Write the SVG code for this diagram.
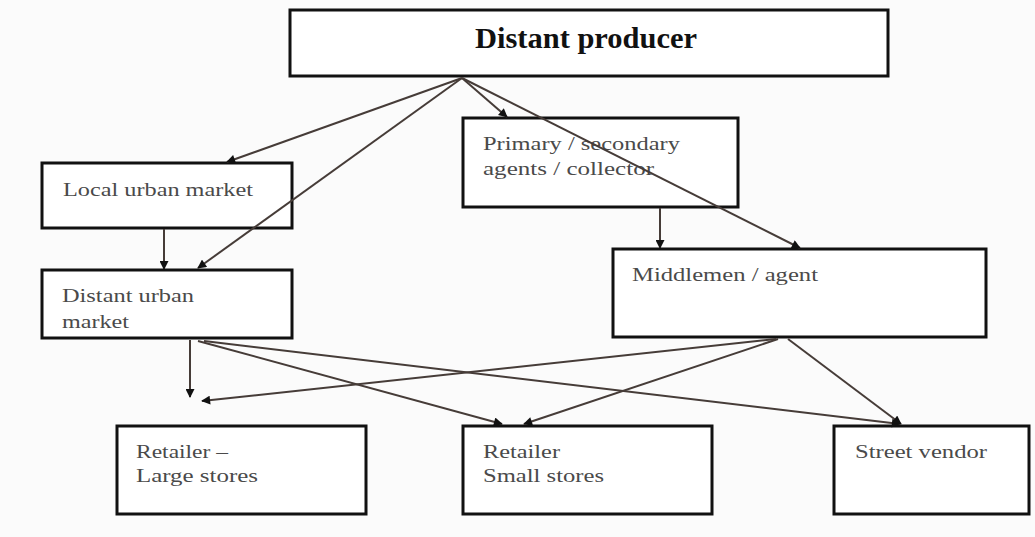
<svg xmlns="http://www.w3.org/2000/svg" width="1035" height="537" viewBox="0 0 1035 537">
<style>
.box{fill:#fff;stroke:#111;stroke-width:3}
.t{font-family:"Liberation Serif",serif;font-size:19px;fill:#4a4a4a}
.h{font-family:"Liberation Serif",serif;font-size:29px;font-weight:bold;fill:#111}
.c{stroke:#463c38;stroke-width:2;fill:none;marker-end:url(#ah)}
</style>
<defs>
<marker id="ah" viewBox="0 0 10 10" refX="9" refY="5" markerWidth="10" markerHeight="9" orient="auto" markerUnits="userSpaceOnUse">
<path d="M0,0 L10,5 L0,10 z" fill="#111"/>
</marker>
</defs>
<rect width="1035" height="537" fill="#fbfbfb"/>
<g id="n-producer"><rect class="box" x="290" y="10" width="598" height="66"/><text class="h" x="475" y="48" textLength="222" lengthAdjust="spacingAndGlyphs">Distant producer</text></g>
<g id="n-local"><rect class="box" x="42" y="163" width="250" height="65"/><text class="t" x="63" y="196" textLength="190" lengthAdjust="spacingAndGlyphs">Local urban market</text></g>
<g id="n-distant"><rect class="box" x="42" y="270" width="250" height="68"/><text class="t" x="62" y="302" textLength="132" lengthAdjust="spacingAndGlyphs">Distant urban</text><text class="t" x="62" y="328" textLength="67" lengthAdjust="spacingAndGlyphs">market</text></g>
<g id="n-primary"><rect class="box" x="463" y="118" width="275" height="89"/><text class="t" x="483" y="150" textLength="197" lengthAdjust="spacingAndGlyphs">Primary / secondary</text><text class="t" x="483" y="175" textLength="171" lengthAdjust="spacingAndGlyphs">agents / collector</text></g>
<g id="n-middle"><rect class="box" x="613" y="249" width="373" height="88"/><text class="t" x="632" y="281" textLength="186" lengthAdjust="spacingAndGlyphs">Middlemen / agent</text></g>
<g id="n-large"><rect class="box" x="117" y="426" width="249" height="88"/><text class="t" x="136" y="458" textLength="92" lengthAdjust="spacingAndGlyphs">Retailer –</text><text class="t" x="136" y="482" textLength="122" lengthAdjust="spacingAndGlyphs">Large stores</text></g>
<g id="n-small"><rect class="box" x="463" y="426" width="249" height="88"/><text class="t" x="483" y="458" textLength="77" lengthAdjust="spacingAndGlyphs">Retailer</text><text class="t" x="483" y="482" textLength="121" lengthAdjust="spacingAndGlyphs">Small stores</text></g>
<g id="n-street"><rect class="box" x="834" y="426" width="195" height="88"/><text class="t" x="855" y="458" textLength="132" lengthAdjust="spacingAndGlyphs">Street vendor</text></g>
<g id="connectors">
<line class="c" x1="462" y1="78" x2="227" y2="162"/>
<line class="c" x1="462" y1="78" x2="198" y2="268"/>
<line class="c" x1="462" y1="78" x2="507" y2="117"/>
<line class="c" x1="462" y1="78" x2="800" y2="248"/>
<line class="c" x1="164" y1="229" x2="164" y2="269"/>
<line class="c" x1="660" y1="208" x2="660" y2="248"/>
<line class="c" x1="190" y1="340" x2="190" y2="397"/>
<line class="c" x1="198" y1="341" x2="502" y2="424"/>
<line class="c" x1="204" y1="341" x2="900" y2="424"/>
<line class="c" x1="776" y1="339" x2="202" y2="401"/>
<line class="c" x1="778" y1="339" x2="524" y2="424"/>
<line class="c" x1="788" y1="339" x2="901" y2="424"/>
</g>
</svg>
